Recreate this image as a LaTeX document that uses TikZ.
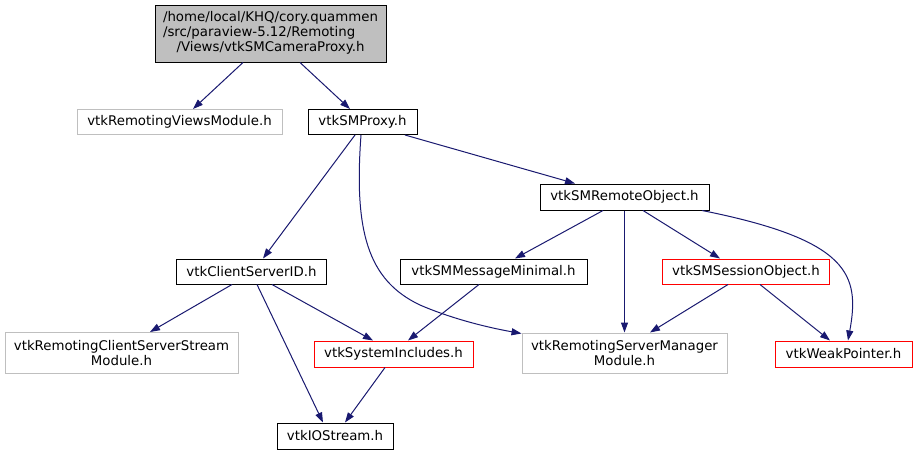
\documentclass[tikz,border=0pt]{standalone}
\usepackage{fontspec}
\setmainfont{DejaVu Sans}
\usetikzlibrary{arrows.meta}
\definecolor{edgec}{HTML}{191970}
\definecolor{grayb}{HTML}{BFBFBF}
\definecolor{fillg}{HTML}{BFBFBF}
\begin{document}
\begin{tikzpicture}[x=1pt,y=-1pt,
  box/.style={draw=black,line width=1pt,rectangle,inner sep=0pt,align=center,
    font=\fontsize{13.33}{15}\selectfont},
  gbox/.style={box,draw=grayb},
  rbox/.style={box,draw=red},
  edge/.style={draw=edgec,line width=1pt,-{Triangle[length=10pt,width=7pt]}}]
\useasboundingbox (0,0) rectangle (917,455);
\fill[white] (0,0) rectangle (917,455);
% nodes
\node[box,fill=fillg,minimum width=231pt,minimum height=57pt] (top) at (270.5,33.5)
  {\begin{tabular}{@{}l@{}}/home/local/KHQ/cory.quammen\\/src/paraview-5.12/Remoting\\\multicolumn{1}{@{}c@{}}{/Views/vtkSMCameraProxy.h}\end{tabular}};
\node[gbox,minimum width=205pt,minimum height=25pt] (rvm) at (179.5,122) {vtkRemotingViewsModule.h};
\node[box,minimum width=109pt,minimum height=25pt] (proxy) at (362.5,122) {vtkSMProxy.h};
\node[box,minimum width=169pt,minimum height=26pt] (rob) at (624.5,197) {vtkSMRemoteObject.h};
\node[box,minimum width=150pt,minimum height=25pt] (csid) at (251.5,271.5) {vtkClientServerID.h};
\node[box,minimum width=187pt,minimum height=25pt] (msg) at (493.5,271.5) {vtkSMMessageMinimal.h};
\node[rbox,minimum width=167pt,minimum height=25pt] (sess) at (746,271.5) {vtkSMSessionObject.h};
\node[gbox,minimum width=233pt,minimum height=41pt] (css) at (121.5,353) {vtkRemotingClientServerStream\\Module.h};
\node[rbox,minimum width=159pt,minimum height=26pt] (sys) at (393.5,354) {vtkSystemIncludes.h};
\node[gbox,minimum width=205pt,minimum height=40pt] (rsm) at (624.5,353) {vtkRemotingServerManager\\Module.h};
\node[rbox,minimum width=137pt,minimum height=26pt] (weak) at (843.5,354) {vtkWeakPointer.h};
\node[box,minimum width=116pt,minimum height=26pt] (ios) at (335,436) {vtkIOStream.h};
% edges
\draw[edge] ([xshift=-27.5pt]top.south) -- ([xshift=13.5pt]rvm.north);
\draw[edge] ([xshift=29.5pt]top.south) -- ([xshift=-12.5pt]proxy.north);
\draw[edge] ([xshift=-7.5pt]proxy.south) -- ([xshift=11.5pt]csid.north);
\draw[edge] ([xshift=-1.5pt]proxy.south) .. controls (354,230) and (367,280) .. (420,305)
  .. controls (450,318) and (485,327) .. ([yshift=-1pt]rsm.north west);
\draw[edge] ([xshift=42.5pt]proxy.south) -- ([xshift=-49.5pt]rob.north);
\draw[edge] ([xshift=-21.5pt]rob.south) -- ([xshift=21.5pt]msg.north);
\draw[edge] (rob.south) -- (rsm.north);
\draw[edge] ([xshift=18.5pt]rob.south) -- ([xshift=-26pt]sess.north);
\draw[edge] ([xshift=77.5pt]rob.south) .. controls (850,240) and (860,275) .. ([xshift=4.5pt]weak.north);
\draw[edge] ([xshift=-19.5pt]csid.south) -- ([xshift=28.5pt]css.north);
\draw[edge] ([xshift=5.5pt]csid.south) -- ([xshift=-12pt]ios.north);
\draw[edge] ([xshift=20.5pt]csid.south) -- ([xshift=-20.5pt]sys.north);
\draw[edge] ([xshift=-14.5pt]msg.south) -- ([xshift=14.5pt]sys.north);
\draw[edge] ([xshift=-8.5pt]sys.south) -- ([xshift=10pt]ios.north);
\draw[edge] ([xshift=-18pt]sess.south) -- ([xshift=25.5pt]rsm.north);
\draw[edge] ([xshift=14pt]sess.south) -- ([xshift=-13.5pt]weak.north);
\end{tikzpicture}
\end{document}
